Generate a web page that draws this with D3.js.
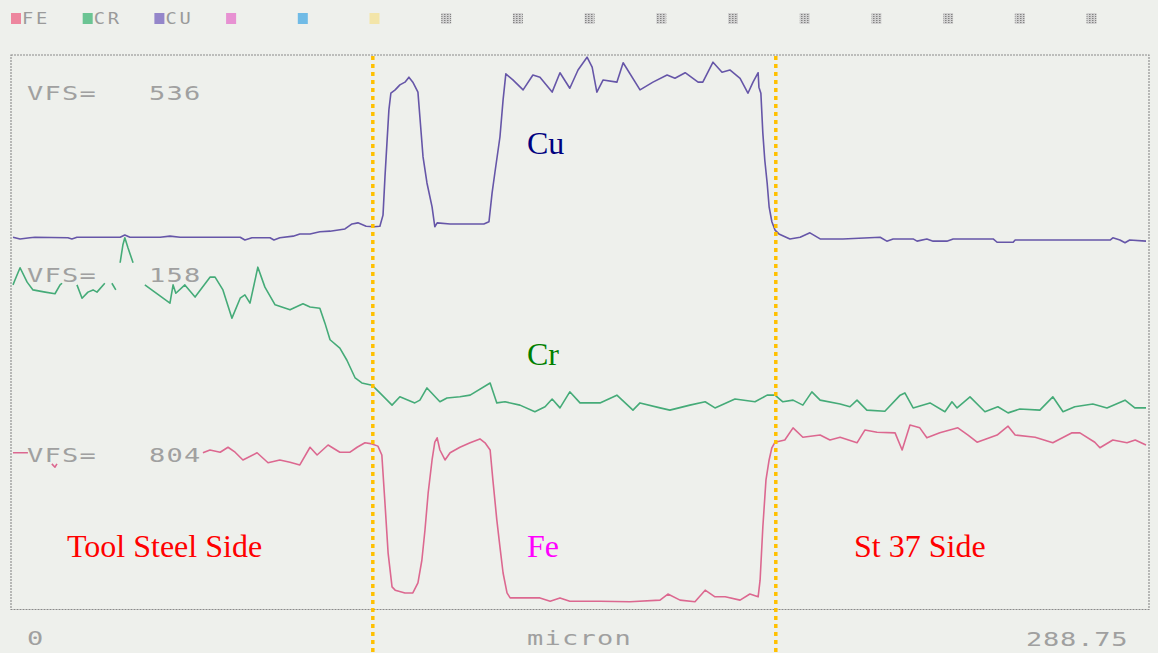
<!DOCTYPE html>
<html>
<head>
<meta charset="utf-8">
<script src="https://cdn.jsdelivr.net/npm/d3@7"></script>
<style>
  html, body { margin: 0; padding: 0; background: #eef0ec; }
  svg { display: block; }
</style>
</head>
<body>
<svg id="chart" width="1158" height="653"></svg>
<script>
// EDS line scan across the brazed joint: intensity traces (percent of frame height) vs distance in micron.
const scanLength = 288.75;
const interfaces = [91.7, 194.4];

const elementNames = ["Cu", "Cr", "Fe"];
const vfsValues = [536, 158, 804];
const legendLabels = ["FE", "CR", "CU"];
const axisLabels = { start: "0", end: "288.75", title: "micron" };
const sideLabels = ["Tool Steel Side", "St 37 Side"];

// [micron, relative intensity]; null marks where the plotter lifted the pen
const cuProfile = [
  [0, 67.1], [1.8, 66.8], [4.3, 67.0], [5.6, 67.1], [14.0, 67.0], [15.0, 66.8], [16.3, 67.1],
  [27.3, 67.1], [28.5, 67.5], [29.8, 67.1], [37.5, 67.1], [40.0, 67.3], [42.6, 67.1],
  [57.9, 67.1], [59.1, 66.6], [60.9, 67.0], [65.5, 67.0], [66.5, 66.6], [68.0, 67.0],
  [71.4, 67.3], [73.1, 67.7], [75.7, 67.7], [78.2, 68.1], [80.8, 68.2], [84.6, 68.6],
  [86.4, 69.5], [87.9, 69.7], [90.0, 69.1], [92.0, 69.0], [93.5, 69.1], [94.3, 71.1],
  [94.8, 78.0], [95.3, 84.1], [95.8, 90.1], [96.3, 93.1], [97.4, 93.7], [98.6, 94.6],
  [99.9, 95.1], [100.9, 96.0], [101.9, 95.1], [103.2, 93.3], [103.7, 88.8], [104.5, 81.6],
  [105.5, 76.9], [106.8, 72.6], [107.5, 69.0], [108.1, 69.7], [111.4, 69.5], [116.5, 69.5],
  [120.0, 69.5], [121.3, 69.9], [122.1, 75.1], [122.8, 78.7], [124.1, 85.2], [124.9, 91.9],
  [125.6, 96.6], [127.4, 95.5], [130.0, 93.7], [132.5, 96.4], [134.3, 96.0], [137.4, 93.3],
  [139.4, 96.8], [141.9, 94.0], [144.0, 97.3], [146.3, 99.6], [147.6, 97.8], [148.8, 93.3],
  [150.4, 95.5], [153.9, 95.1], [155.5, 98.6], [159.8, 93.7], [163.1, 95.1], [166.7, 96.4],
  [168.7, 95.8], [171.3, 96.8], [174.6, 95.1], [175.8, 95.1], [178.4, 98.7], [180.7, 96.9],
  [182.7, 97.3], [185.3, 95.8], [187.3, 93.1], [188.6, 95.1], [189.9, 96.8], [190.1, 94.2],
  [190.6, 93.1], [191.1, 85.9], [191.6, 81.0], [192.2, 76.9], [192.7, 72.6], [193.4, 69.9],
  [194.2, 68.4], [195.2, 67.7], [198.0, 66.8], [200.6, 67.1], [203.1, 67.9], [205.7, 66.8],
  [211.5, 66.8], [221.0, 67.1], [222.7, 66.4], [224.3, 66.8], [229.4, 66.8], [230.4, 66.4],
  [232.9, 66.8], [234.5, 66.4], [238.0, 66.4], [239.6, 66.8], [249.8, 66.8], [250.8, 66.2],
  [254.9, 66.2], [255.4, 66.6], [279.6, 66.6], [280.3, 67.0], [282.1, 66.6], [283.4, 66.1],
  [284.6, 66.6], [288.75, 66.4]
];

const crProfile = [
  [0, 58.5], [0.5, 59.4], [1.8, 61.6], [3.6, 59.0], [5.1, 57.6], [8.2, 57.2], [10.7, 56.9],
  [12.0, 58.5], [12.5, 58.8], [14.0, null],
  [16.3, 58.5], [17.6, 56.1], [19.1, 57.2], [20.4, 57.6], [21.4, 57.2], [23.4, 58.8], [24.3, null],
  [25.2, 58.8], [26.2, 57.6], [26.7, null],
  [27.3, 62.5], [28.0, 65.7], [28.5, 67.0], [29.3, 65.2], [30.6, 62.5], [32.0, null],
  [33.6, 58.5], [40.0, 55.2], [40.8, 58.5], [41.5, 57.0], [43.8, 58.5], [46.4, 56.3],
  [50.2, 59.9], [51.5, 59.9], [53.5, 57.6], [55.8, 52.5], [57.9, 56.1], [59.1, 56.7],
  [60.4, 55.2], [62.4, 61.7], [64.2, 58.1], [66.8, 54.9], [70.6, 54.0], [73.9, 55.1],
  [75.7, 54.5], [78.2, 54.3], [79.5, 51.6], [80.8, 48.6], [83.3, 47.1], [85.1, 44.9],
  [87.2, 41.7], [88.9, 40.8], [91.5, 40.4], [93.5, 39.0], [96.6, 36.8], [98.6, 38.3],
  [102.4, 37.2], [103.7, 37.7], [105.5, 39.9], [108.8, 37.4], [110.6, 38.1], [113.9, 38.3],
  [116.5, 38.6], [121.6, 40.8], [123.3, 37.2], [125.4, 37.4], [129.2, 36.8], [133.0, 35.6],
  [135.6, 36.5], [137.4, 37.9], [139.4, 36.3], [141.9, 39.2], [144.5, 37.2], [149.6, 37.2],
  [153.9, 38.6], [158.0, 35.9], [159.8, 37.2], [164.9, 36.3], [167.4, 35.9], [172.5, 36.8],
  [176.4, 37.4], [178.9, 36.3], [184.0, 37.9], [189.1, 37.4], [192.2, 38.6], [194.2, 38.6],
  [196.2, 37.4], [198.8, 37.7], [201.3, 36.8], [203.6, 39.2], [205.7, 37.7], [210.8, 37.0],
  [213.3, 36.5], [215.1, 37.7], [217.6, 35.9], [222.2, 35.7], [226.1, 38.6], [227.3, 39.0],
  [229.4, 36.3], [233.7, 37.2], [237.5, 35.6], [239.3, 37.4], [240.6, 36.3], [243.9, 38.3],
  [247.7, 35.6], [251.0, 36.5], [253.6, 35.4], [256.6, 36.1], [261.7, 35.9], [265.0, 38.3],
  [267.6, 35.6], [270.6, 36.5], [275.2, 37.0], [278.8, 36.3], [283.4, 37.7], [285.9, 36.3],
  [288.75, 36.3]
];

const feProfile = [
  [0, 28.2], [3.8, 28.2], [5.0, null],
  [9.9, 26.2], [10.7, 25.6], [11.2, 26.2], [12.0, null],
  [48.4, 28.2], [50.2, 28.7], [52.8, 28.3], [54.8, 29.2], [56.6, 28.3], [58.6, 26.9],
  [62.2, 28.2], [65.0, 26.4], [68.0, 26.9], [70.6, 26.5], [73.1, 26.0], [75.7, 29.2],
  [77.5, 27.8], [80.3, 29.6], [83.3, 28.3], [85.9, 28.3], [87.7, 29.2], [89.7, 30.0],
  [91.5, 29.8], [93.0, 29.4], [94.0, 27.8], [94.8, 19.1], [95.6, 10.1], [96.6, 4.0],
  [97.4, 3.4], [99.9, 2.9], [101.9, 2.9], [103.2, 4.7], [104.2, 8.8], [105.0, 14.3],
  [105.8, 20.9], [106.8, 26.9], [107.5, 30.1], [108.1, 30.9], [108.8, 28.7], [110.1, 26.9],
  [111.4, 28.2], [113.9, 29.2], [116.5, 30.0], [119.0, 30.7], [120.3, 30.0], [121.6, 28.7],
  [122.3, 23.3], [123.3, 16.1], [124.1, 11.2], [124.9, 6.5], [125.9, 2.9], [126.7, 2.0],
  [134.3, 2.0], [136.9, 1.4], [139.4, 2.0], [141.9, 1.4], [149.6, 1.4], [157.2, 1.3],
  [164.9, 1.6], [166.9, 2.7], [170.0, 1.6], [173.8, 1.3], [176.4, 3.4], [178.9, 2.2],
  [181.5, 2.2], [185.3, 1.6], [187.8, 2.7], [189.9, 2.2], [190.4, 5.2], [191.1, 14.8],
  [191.9, 23.3], [192.7, 26.9], [193.4, 29.1], [194.2, 30.1], [196.7, 30.5], [198.8, 32.7],
  [201.3, 31.0], [205.7, 31.4], [208.2, 30.5], [210.8, 31.0], [215.1, 30.0], [217.1, 32.3],
  [220.2, 31.9], [224.8, 31.8], [226.6, 28.7], [228.6, 33.2], [231.1, 32.7], [232.9, 30.9],
  [236.2, 31.8], [240.8, 32.7], [243.4, 31.4], [245.7, 30.1], [250.8, 31.4], [253.6, 33.0],
  [255.4, 31.4], [260.5, 31.0], [265.0, 30.0], [269.9, 31.8], [271.9, 31.8], [275.7, 30.1],
  [277.0, 29.1], [280.3, 30.5], [283.9, 30.0], [286.0, 30.5], [288.75, 29.6]
];

// ---- drawing ----
const svg = d3.select("#chart");
const W = 1158, H = 653;
const frame = { left: 11, right: 1149, top: 55, bottom: 609.5 };

const x = d3.scaleLinear().domain([0, scanLength]).range([13, 1146]);
const y = d3.scaleLinear().domain([0, 100]).range([609, 55]);

svg.append("rect").attr("width", W).attr("height", H).attr("fill", "#eef0ec");

// hatched fill for the unused legend channels
const defs = svg.append("defs");
const pat = defs.append("pattern").attr("id", "hatch")
  .attr("width", 3).attr("height", 2).attr("patternUnits", "userSpaceOnUse");
pat.append("rect").attr("width", 3).attr("height", 2).attr("fill", "#cfcfcf");
pat.append("rect").attr("width", 1.5).attr("height", 1).attr("fill", "#777");

const monoFont = "'DejaVu Sans Mono', 'Liberation Mono', monospace";
const serifFont = "'Liberation Serif', 'Times New Roman', serif";

// wide printer-style text: monospace glyphs stretched horizontally
function printerText(g, str, px, py, size, stretch, spacing, anchor) {
  return g.append("text")
    .attr("transform", `translate(${px},${py}) scale(${stretch},1)`)
    .attr("font-family", monoFont)
    .attr("font-size", size)
    .attr("letter-spacing", spacing)
    .attr("text-anchor", anchor || "start")
    .text(str);
}

// channel legend strip
const legendColors = ["#ec7a96", "#5cbf8a", "#8a7ac6", "#e586cf", "#62b5e6", "#f3e3a2"];
const slots = d3.range(16);
const legend = svg.append("g").attr("fill", "#9a9a9a");
legend.selectAll("rect").data(slots).join("rect")
  .attr("x", i => 11 + i * 71.7)
  .attr("y", 13)
  .attr("width", 10)
  .attr("height", 11)
  .attr("fill", i => i < legendColors.length ? legendColors[i] : "url(#hatch)")
  .attr("opacity", 0.9);
legendLabels.forEach((d, i) => printerText(legend, d, 22 + i * 71.7, 24, 15, 1.25, 2.2));

// plot frame (dot-matrix style)
svg.append("rect")
  .attr("x", frame.left).attr("y", frame.top)
  .attr("width", frame.right - frame.left).attr("height", frame.bottom - frame.top)
  .attr("fill", "none")
  .attr("stroke", "#8a8a8a")
  .attr("stroke-width", 1.1)
  .attr("stroke-dasharray", "2,1");

// full-scale readouts
const vfsRows = [100, 282, 462];
const readouts = svg.append("g").attr("fill", "#a0a0a0");
vfsValues.forEach((v, i) => {
  printerText(readouts, "VFS=", 27, vfsRows[i], 20, 1.35, 0.9);
  printerText(readouts, String(v), 149, vfsRows[i], 20, 1.35, 0.9);
});

// x-axis readouts
printerText(readouts, axisLabels.start, 27, 645, 20, 1.35, 0.9);
printerText(readouts, axisLabels.title, (x(0) + x(scanLength)) / 2, 645, 20, 1.35, 0.9, "middle");
printerText(readouts, axisLabels.end, 1026, 646, 20, 1.35, 0.6);

// element traces
const line = d3.line()
  .defined(d => d[1] !== null)
  .x(d => x(d[0]))
  .y(d => y(d[1]));

const traces = [
  { data: cuProfile, color: "#6656a8" },
  { data: crProfile, color: "#45ab78" },
  { data: feProfile, color: "#dc6890" }
];
svg.append("g").selectAll("path").data(traces).join("path")
  .attr("d", d => line(d.data))
  .attr("fill", "none")
  .attr("stroke", d => d.color)
  .attr("stroke-width", 1.6)
  .attr("stroke-linejoin", "round");

// joint interfaces
svg.append("g").selectAll("line").data(interfaces).join("line")
  .attr("x1", d => x(d)).attr("x2", d => x(d))
  .attr("y1", 56).attr("y2", H)
  .attr("stroke", "#ffc000")
  .attr("stroke-width", 3.5)
  .attr("stroke-dasharray", "4,4");

// element and side annotations
const notes = [
  { text: elementNames[0], x: 527, y: 154, color: "#000080" },
  { text: elementNames[1], x: 527, y: 365, color: "#008000" },
  { text: elementNames[2], x: 527, y: 557, color: "#ff00ff" },
  { text: sideLabels[0], x: 67, y: 557, color: "#ff0000" },
  { text: sideLabels[1], x: 854, y: 557, color: "#ff0000" }
];
svg.append("g").selectAll("text").data(notes).join("text")
  .attr("x", d => d.x).attr("y", d => d.y)
  .attr("font-family", serifFont)
  .attr("font-size", 32)
  .attr("fill", d => d.color)
  .text(d => d.text);
</script>
</body>
</html>
